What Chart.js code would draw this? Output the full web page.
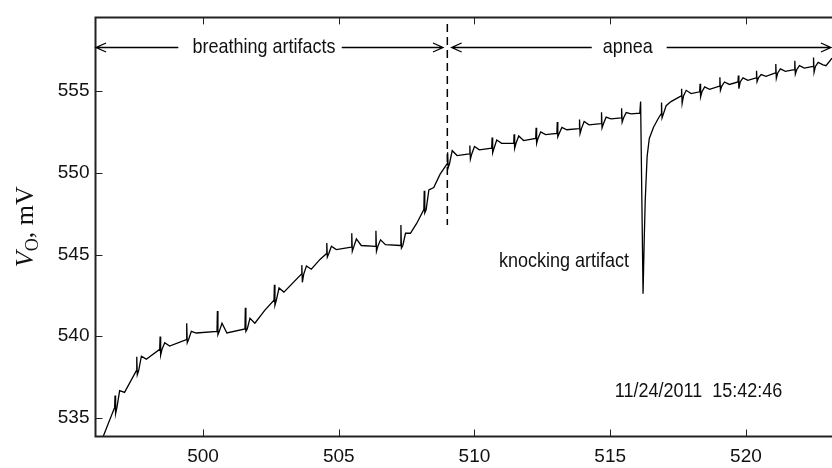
<!DOCTYPE html>
<html>
<head>
<meta charset="utf-8">
<script src="https://cdn.jsdelivr.net/npm/chart.js@4.4.0/dist/chart.umd.min.js"></script>
<style>
  html, body { margin: 0; padding: 0; background: #fff; }
  #wrap { width: 832px; height: 468px; position: relative; }
</style>
</head>
<body>
<div id="wrap"><canvas id="chart"></canvas></div>
<script>
// beats: time, baseline before, spike top, spike bottom, hump, baseline after
const beatTime = [496.76, 497.56, 498.42, 499.40, 500.53, 501.56, 502.63, 503.64, 504.56, 505.48, 506.37,
  507.29, 508.15, 509.01, 509.83, 510.65, 511.46, 512.27, 513.05, 513.87, 514.68, 515.42,
  516.89, 517.63, 518.31, 519.04, 519.72, 520.39, 521.10, 521.80, 522.49];
const beatBase = [535.65, 537.9, 539.2, 539.8, 540.3, 540.45, 542.2, 543.8, 545.05, 545.45, 545.5,
  545.55, 547.75, 550.55, 551.15, 551.5, 551.8, 552.1, 552.4, 552.7, 553.0, 553.35,
  553.6, 554.7, 554.95, 555.3, 555.55, 555.8, 556.1, 556.3, 556.5];
const beatHigh = [536.37, 538.75, 539.98, 540.8, 541.55, 541.75, 543.15, 544.35, 545.7, 546.3, 546.45,
  546.8, 548.9, 551.25, 551.67, 552.15, 552.35, 552.75, 553.1, 553.25, 553.7, 553.95,
  554.3, 555.14, 555.44, 555.84, 555.95, 556.24, 556.65, 556.85, 557.05];
const beatLow = [535.27, 537.65, 538.85, 539.6, 540.1, 540.3, 541.9, 543.3, 544.85, 545.2, 545.2,
  545.4, 547.55, 550.3, 550.83, 551.23, 551.5, 551.8, 552.2, 552.4, 552.75, 553.1,
  553.35, 554.24, 554.64, 555.04, 555.14, 555.58, 555.78, 556.04, 556.14];
const beatBump = [536.67, 538.78, 539.6, 540.3, 540.8, 541.1, 542.95, 544.3, 545.5, 545.95, 545.9,
  546.3, 548.95, 551.35, 551.6, 552.0, 552.25, 552.5, 552.77, 553.13, 553.4, 553.68,
  554.1, 555.04, 555.25, 555.55, 555.8, 556.0, 556.35, 556.55, 556.75];
const beatRest = [536.57, 538.6, 539.4, 540.2, 540.2, 540.8, 542.7, 544.1, 545.3, 545.55, 545.6,
  546.3, 549.1, 551.05, 551.4, 551.8, 551.97, 552.33, 552.63, 552.93, 553.3, 553.6,
  554.35, 554.84, 555.1, 555.4, 555.65, 555.9, 556.2, 556.4, 556.6];

// slow trend points between beats
const trendX = [496.33, 502.28, 504.31, 507.87, 508.73, 522.95, 523.17];
const trendY = [533.9, 541.6, 544.7, 546.9, 549.9, 556.55, 557.0];

// knocking artifact and recovery
const knockX = [516.09, 516.12, 516.21, 516.25, 516.29, 516.36, 516.44, 516.60, 516.78];
const knockY = [553.65, 554.35, 542.6, 545.7, 548.3, 551.0, 552.1, 552.8, 553.35];

const xTicks = [500, 505, 510, 515, 520];
const yTicks = [535, 540, 545, 550, 555];

/* BUILD TRACE */
let trace = [];
trendX.forEach((v, i) => trace.push({ x: v, y: trendY[i] }));
knockX.forEach((v, i) => trace.push({ x: v, y: knockY[i] }));
beatTime.forEach((t, i) => {
  trace.push({ x: t - 0.015, y: beatBase[i] });
  trace.push({ x: t, y: beatHigh[i] });
  trace.push({ x: t + 0.02, y: beatLow[i] });
  trace.push({ x: t + 0.07, y: beatBase[i] });
  trace.push({ x: t + 0.17, y: beatBump[i] });
  trace.push({ x: t + 0.35, y: beatRest[i] });
});
trace.sort((a, b) => a.x - b.x);

const textFont = '18px "Liberation Sans", Arial, sans-serif';

// text a little taller than wide, like the original figure
function tallText(ctx, str, px, py) {
  ctx.save();
  ctx.translate(px, py);
  ctx.scale(1, 1.12);
  ctx.fillText(str, 0, 0);
  ctx.restore();
}

/* FRAME, INWARD TICKS, NOTES */
const decor = {
  id: 'decor',
  afterDraw(chart) {
    const { ctx, chartArea: a, scales: { x, y } } = chart;
    ctx.save();
    ctx.strokeStyle = '#222';
    ctx.lineWidth = 2;
    ctx.beginPath();
    ctx.moveTo(a.right + 5, a.top);
    ctx.lineTo(a.left, a.top);
    ctx.lineTo(a.left, a.bottom);
    ctx.lineTo(a.right + 5, a.bottom);
    ctx.stroke();

    ctx.lineWidth = 1;
    ctx.beginPath();
    x.ticks.forEach(t => {
      const px = Math.round(x.getPixelForValue(t.value)) + 0.5;
      ctx.moveTo(px, a.bottom); ctx.lineTo(px, a.bottom - 7);
      ctx.moveTo(px, a.top); ctx.lineTo(px, a.top + 7);
    });
    y.ticks.forEach(t => {
      const py = Math.round(y.getPixelForValue(t.value)) + 0.5;
      ctx.moveTo(a.left, py); ctx.lineTo(a.left + 7, py);
    });
    ctx.stroke();

    // dashed divider
    ctx.strokeStyle = '#000';
    ctx.lineWidth = 1.5;
    ctx.setLineDash([8, 5]);
    ctx.beginPath();
    ctx.moveTo(x.getPixelForValue(509.0), y.getPixelForValue(559.1));
    ctx.lineTo(x.getPixelForValue(509.0), y.getPixelForValue(546.8));
    ctx.stroke();
    ctx.setLineDash([]);

    // arrows
    const ay = Math.round(y.getPixelForValue(557.71)) + 0.5;
    function arrow(v1, v2, headL, headR) {
      const p1 = x.getPixelForValue(v1), p2 = x.getPixelForValue(v2);
      ctx.lineWidth = 1.3;
      ctx.beginPath();
      ctx.moveTo(p1, ay); ctx.lineTo(p2, ay);
      if (headL) { ctx.moveTo(p1 + 10, ay - 4.5); ctx.lineTo(p1, ay); ctx.lineTo(p1 + 10, ay + 4.5); }
      if (headR) { ctx.moveTo(p2 - 10, ay - 4.5); ctx.lineTo(p2, ay); ctx.lineTo(p2 - 10, ay + 4.5); }
      ctx.stroke();
    }
    arrow(496.06, 499.09, true, false);
    arrow(505.11, 508.84, false, true);
    arrow(509.16, 514.32, true, false);
    arrow(517.08, 523.13, false, true);

    ctx.fillStyle = '#111';
    ctx.font = textFont;
    ctx.textBaseline = 'middle';
    ctx.textAlign = 'center';
    tallText(ctx, 'breathing artifacts', x.getPixelForValue(502.25), ay);
    tallText(ctx, 'apnea', x.getPixelForValue(515.65), ay);
    ctx.textAlign = 'right';
    tallText(ctx, 'knocking artifact', x.getPixelForValue(515.69), y.getPixelForValue(544.56));
    ctx.textAlign = 'left';
    tallText(ctx, '11/24/2011  15:42:46', x.getPixelForValue(515.17), y.getPixelForValue(536.61));

    // y axis title: V_O, mV
    ctx.translate(33, y.getPixelForValue(546.7));
    ctx.rotate(-Math.PI / 2);
    ctx.textAlign = 'left';
    ctx.textBaseline = 'alphabetic';
    const big = '26px "Liberation Serif", "Times New Roman", serif';
    const bigIt = 'italic ' + big;
    const small = '18px "Liberation Serif", "Times New Roman", serif';
    ctx.font = bigIt; const wV = ctx.measureText('V').width;
    ctx.font = small; const wO = ctx.measureText('O').width;
    ctx.font = big; const wR = ctx.measureText(', mV').width;
    let cx = -(wV + wO + wR) / 2;
    ctx.font = bigIt; ctx.fillText('V', cx, 0); cx += wV;
    ctx.font = small; ctx.fillText('O', cx, 5); cx += wO;
    ctx.font = big; ctx.fillText(', mV', cx, 0);
    ctx.restore();
  }
};

new Chart(document.getElementById('chart'), {
  type: 'line',
  data: {
    datasets: [{
      data: trace,
      borderColor: '#000',
      borderWidth: 1.3,
      pointRadius: 0,
      tension: 0,
      fill: false
    }]
  },
  options: {
    responsive: true,
    maintainAspectRatio: false,
    animation: false,
    events: [],
    layout: { padding: { left: 0, top: 11, right: 0, bottom: 0 } },
    plugins: { legend: { display: false }, tooltip: { enabled: false } },
    scales: {
      x: {
        type: 'linear',
        min: 496.04,
        max: 523.17,
        grid: { display: false, drawTicks: false },
        border: { display: false },
        afterBuildTicks: s => { s.ticks = xTicks.map(v => ({ value: v })); },
        afterFit: s => { s.height = 31.5; },
        ticks: { color: '#111', padding: 9, maxRotation: 0, font: { family: '"Liberation Sans", Arial, sans-serif', size: 19 } }
      },
      y: {
        type: 'linear',
        min: 533.87,
        max: 559.5,
        grid: { display: false, drawTicks: false },
        border: { display: false },
        afterBuildTicks: s => { s.ticks = yTicks.map(v => ({ value: v })); },
        afterFit: s => { s.width = 95.5; },
        ticks: { color: '#111', padding: 6, font: { family: '"Liberation Sans", Arial, sans-serif', size: 19 } }
      }
    }
  },
  plugins: [decor]
});
</script>
</body>
</html>
